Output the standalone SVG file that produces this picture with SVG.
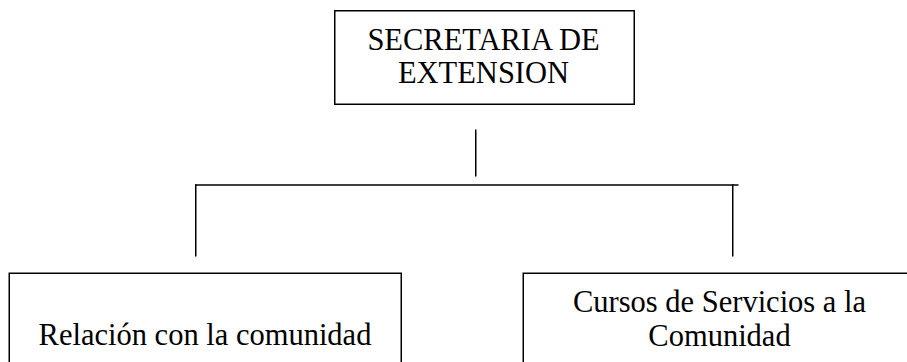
<svg xmlns="http://www.w3.org/2000/svg" width="907" height="362" viewBox="0 0 907 362">
  <style>
    .box { fill: #ffffff; stroke: #000000; stroke-width: 1.5; }
    .lbl { font-family: "Liberation Serif", "Times New Roman", serif; font-size: 30.5px; fill: #000000; text-anchor: middle; }
    .conn line { stroke: #000000; stroke-width: 1.5; }
  </style>
  <rect x="0" y="0" width="907" height="362" fill="#ffffff"/>
  <g id="secretaria">
    <rect class="box" x="334.75" y="10.75" width="299.5" height="93.5"/>
    <text class="lbl" x="483.5" y="49.5">SECRETARIA DE</text>
    <text class="lbl" x="483.5" y="83">EXTENSION</text>
  </g>
  <g id="connectors" class="conn">
    <line x1="475.75" y1="129.5" x2="475.75" y2="176.5"/>
    <line x1="195" y1="185" x2="738.5" y2="185"/>
    <line x1="195.75" y1="184.25" x2="195.75" y2="256.5"/>
    <line x1="732.75" y1="184.25" x2="732.75" y2="256.5"/>
  </g>
  <g id="relacion">
    <rect class="box" x="9.25" y="273.25" width="392" height="120"/>
    <text class="lbl" x="205" y="345">Relación con la comunidad</text>
  </g>
  <g id="cursos">
    <rect class="box" x="523.25" y="273.25" width="392" height="120"/>
    <text class="lbl" x="719.5" y="311.5">Cursos de Servicios a la</text>
    <text class="lbl" x="719.5" y="346">Comunidad</text>
  </g>
</svg>
